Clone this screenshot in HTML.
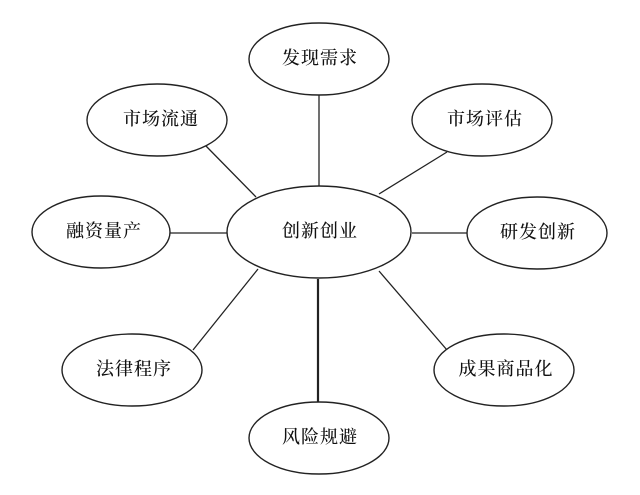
<!DOCTYPE html>
<html><head><meta charset="utf-8"><style>
html,body{margin:0;padding:0;background:#fff;}
svg text{font-family:"Liberation Serif","Noto Serif CJK SC",serif;font-size:18px;fill:#111;text-anchor:middle;dominant-baseline:central;letter-spacing:1px;font-weight:500;}
</style></head><body>
<svg width="640" height="490" viewBox="0 0 640 490" xmlns="http://www.w3.org/2000/svg">
<g stroke="#222" stroke-width="1.3" fill="none">
<line x1="319" y1="94" x2="319" y2="186"/>
<line x1="205" y1="145" x2="256" y2="197"/>
<line x1="447" y1="152" x2="379" y2="194"/>
<line x1="170" y1="233" x2="227" y2="233"/>
<line x1="412" y1="233" x2="467" y2="233"/>
<line x1="258" y1="269" x2="193" y2="350"/>
<line x1="379" y1="271" x2="447" y2="350"/>
<line x1="318" y1="279" x2="318" y2="403" stroke-width="2.2"/>
</g>
<g stroke="#222" stroke-width="1.4" fill="#fff">
<ellipse cx="319" cy="232" rx="92" ry="46"/>
<ellipse cx="319" cy="59" rx="70" ry="36"/>
<ellipse cx="157" cy="120" rx="70" ry="36"/>
<ellipse cx="482" cy="120" rx="70" ry="36"/>
<ellipse cx="101" cy="232" rx="69" ry="36"/>
<ellipse cx="537" cy="233" rx="70" ry="36"/>
<ellipse cx="132" cy="370" rx="70" ry="36"/>
<ellipse cx="504" cy="370" rx="70" ry="36"/>
<ellipse cx="319" cy="438" rx="70" ry="36"/>
</g>
<text x="320" y="231">创新创业</text>
<text x="320" y="58">发现需求</text>
<text x="161" y="119">市场流通</text>
<text x="485" y="119">市场评估</text>
<text x="104" y="231">融资量产</text>
<text x="538" y="232">研发创新</text>
<text x="134" y="369">法律程序</text>
<text x="506" y="369">成果商品化</text>
<text x="320" y="437">风险规避</text>
</svg>
</body></html>
